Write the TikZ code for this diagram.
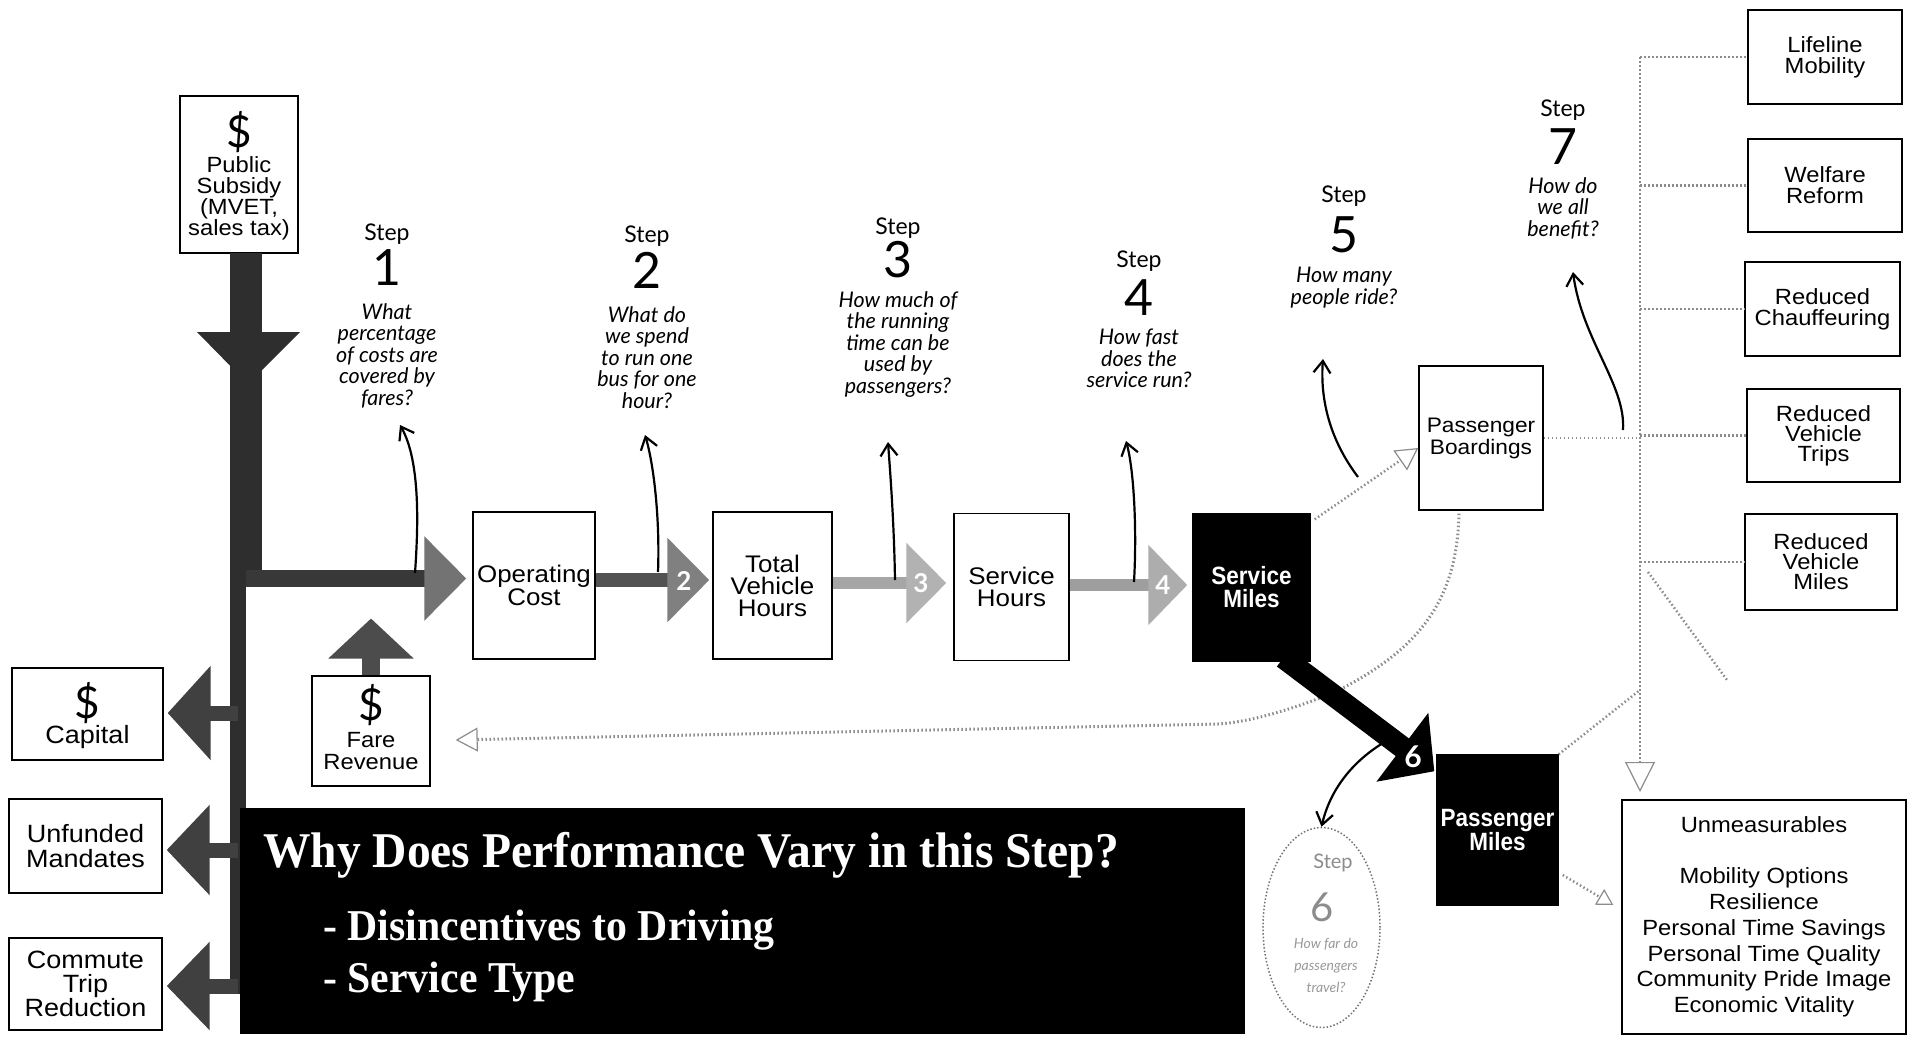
\documentclass[tikz,border=0pt]{standalone}
\usepackage{fontspec}
\usetikzlibrary{arrows.meta,calc,shapes.geometric}
\setmainfont{Lato}
\newfontfamily\boxfont[FakeStretch=1.08]{Liberation Sans}
\newfontfamily\darkfont[FakeStretch=0.9]{Liberation Sans}
\newfontfamily\bannerfont[FakeStretch=0.95]{Liberation Serif}
\newfontfamily\stepfont{Lato}
\newcommand{\FS}[2]{\fontsize{#1}{#2}\selectfont}
\tikzset{
  wbox/.style={draw=black, line width=1.4pt, fill=white, inner sep=0pt, align=center, font=\boxfont\FS{24}{22}},
  dbox/.style={draw=black, line width=1.4pt, fill=black, text=white, inner sep=0pt, align=center, font=\darkfont\bfseries\FS{25}{23}},
  txt/.style={inner sep=0pt, align=center},
  stepword/.style={font=\stepfont\FS{23}{23}, inner sep=0pt},
  stepdigit/.style={font=\stepfont\FS{50}{50}, inner sep=0pt},
  stepq/.style={font=\stepfont\itshape\FS{21.5}{21.5}, align=center, inner sep=0pt, anchor=north},
  qarrow/.style={line width=2.2pt, -{Straight Barb[length=12pt,width=17pt,line width=2.2pt]}},
  dotline/.style={black!45, line width=2.5pt, dash pattern=on 1.5pt off 2.5pt},
  opentip/.style={-{Triangle[open,length=22pt,width=24pt,line width=1.2pt]}},
  headnum/.style={inner sep=0pt, text=white, font=\stepfont\bfseries\FS{26}{26}},
}
\newcommand{\StepLabel}[7]{%
  \node[stepword] (#1w) at (#2,#3) {Step};
  \node[stepdigit] (#1n) at (#2,#4) {#5};
  \node[stepq] (#1q) at (#2,#6-9) {#7};
}
\begin{document}
\begin{tikzpicture}[x=1pt,y=-1pt]
\useasboundingbox (0,0) rectangle (1907,1039);
\fill[white] (0,0) rectangle (1907,1039);

% ---------- boxes (nodes) ----------
\node[wbox, minimum width=118pt, minimum height=157pt] (ps) at (239,174.5) {};
\node[wbox, minimum width=122pt, minimum height=147pt, font=\boxfont\FS{24}{18}] (oc) at (534,585.5) {Operating\\Cost};
\node[wbox, minimum width=119pt, minimum height=147pt] (tvh) at (772.5,585.5) {Total\\Vehicle\\Hours};
\node[wbox, minimum width=115pt, minimum height=147pt] (sh) at (1011.5,587) {Service\\Hours};
\node[dbox, minimum width=117pt, minimum height=147pt] (sm) at (1251.5,587.5) {Service\\Miles};
\node[wbox, minimum width=124pt, minimum height=144pt, font=\boxfont\FS{21}{22}] (pb) at (1481,438) {Passenger\\Boardings};
\node[dbox, minimum width=121pt, minimum height=150pt, font=\darkfont\bfseries\FS{25}{21}] (pm) at (1497.5,830) {Passenger\\Miles};
\node[wbox, minimum width=118pt, minimum height=110pt] (fr) at (371,731) {};
\node[wbox, minimum width=151pt, minimum height=92pt] (cap) at (87.5,714) {};
\node[wbox, minimum width=153pt, minimum height=94pt, font=\boxfont\FS{25}{25}] (unf) at (85.5,846) {Unfunded\\Mandates};
\node[wbox, minimum width=153pt, minimum height=92pt, font=\boxfont\FS{25}{24}] (ctr) at (85.5,984) {Commute\\Trip\\Reduction};
\node[wbox, minimum width=154pt, minimum height=94pt, font=\boxfont\FS{22}{21}] (lm) at (1825,57) {Lifeline\\Mobility};
\node[wbox, minimum width=154pt, minimum height=93pt, font=\boxfont\FS{22}{21}] (wr) at (1825,185.5) {Welfare\\Reform};
\node[wbox, minimum width=155pt, minimum height=94pt, font=\boxfont\FS{22}{21}] (rc) at (1822.5,309) {Reduced\\Chauffeuring};
\node[wbox, minimum width=153pt, minimum height=93pt, font=\boxfont\FS{22}{20}] (rvt) at (1823.5,435.5) {Reduced\\Vehicle\\Trips};
\node[wbox, minimum width=152pt, minimum height=96pt, font=\boxfont\FS{22}{20}] (rvm) at (1821,562) {Reduced\\Vehicle\\Miles};
\node[wbox, minimum width=284pt, minimum height=234pt, font=\boxfont\FS{22}{25.8}] (um) at (1764,917) {Unmeasurables\\[25pt]Mobility Options\\Resilience\\Personal Time Savings\\Personal Time Quality\\Community Pride Image\\Economic Vitality};

% ---------- coordinates ----------
\coordinate (cyA) at (0,578.5);
\coordinate (cyB) at (0,580);
\coordinate (cyC) at (0,583);
\coordinate (cyD) at (0,585);
\coordinate (j1) at (246,578.5);
\coordinate (t1) at (238,713);
\coordinate (t2) at (238,850);
\coordinate (t3) at (238,986);
\coordinate (frin) at ($(fr.east)+(25,9)$);
\coordinate (vt) at (1640,57);
\coordinate (vb) at (1640,792);
\coordinate (vpm) at (1640,690);
\coordinate (dg1) at (1648,572);
\coordinate (dg2) at (1727,680);

% ---------- dotted (faint) connectors ----------
\draw[dotline, line width=3pt, opentip] ($(pb.south)+(-22,3)$) .. controls (1457,600) and (1420,650) .. (1333,693) .. controls (1290,710) and (1250,722) .. (1218,724) -- (frin);
\draw[dotline, opentip] ($(sm.north east)+(4,6)$) -- ($(pb.west)+(0,10)$);
\draw[dotline] (pb.east) -- (pb.east -| vt);
\draw[dotline, -{Triangle[open,length=30pt,width=30pt,line width=1.2pt]}] (vt) -- (vb);
\draw[dotline] (vt |- lm.west) -- (lm.west);
\draw[dotline] (vt |- wr.west) -- (wr.west);
\draw[dotline] (vt |- rc.west) -- (rc.west);
\draw[dotline] (vt |- rvt.west) -- (rvt.west);
\draw[dotline] (vt |- rvm.west) -- (rvm.west);
\draw[dotline] (pm.north east) -- (vpm);
\draw[dotline] (dg1) -- (dg2);
\draw[dotline, -{Triangle[open,length=16pt,width=18pt,line width=1.2pt]}] ($(pm.east)+(4,45)$) -- ($(um.west)+(-8,-12)$);

% ---------- trunk ----------
\fill[black!82] (230,253) rectangle (262,587);
\fill[black!82] (230,570) rectangle (246,994);
\fill[black!82] (197,332) -- (300,332) -- (248,384) -- cycle;

% ---------- money flows ----------
\draw[black!78, line width=17pt, -{Triangle[length=42pt,width=82pt,color=black!55]}, shorten >=6pt] (j1) -- (oc.west |- cyA);
\draw[black!75, line width=15pt, -{Triangle[length=43pt,width=92pt]}, shorten >=4pt] (t1) -- (t1 -| cap.east);
\draw[black!75, line width=15pt, -{Triangle[length=43pt,width=88pt]}, shorten >=4pt] (t2) -- (t2 -| unf.east);
\draw[black!75, line width=15pt, -{Triangle[length=43pt,width=86pt]}, shorten >=4pt] (t3) -- (t3 -| ctr.east);
\draw[black!70, line width=18pt, -{Triangle[length=40pt,width=83pt]}, shorten >=40pt] (fr.north) -- (fr.north |- cyA);

% ---------- chain arrows ----------
\draw[black!68, line width=14pt, -{Triangle[length=42pt,width=82pt,color=black!50]}, shorten >=3pt] (oc.east |- cyB) -- (tvh.west |- cyB);
\draw[black!35, line width=12pt, -{Triangle[length=40pt,width=78pt,color=black!30]}, shorten >=7pt] (tvh.east |- cyC) -- (sh.west |- cyC);
\draw[black!38, line width=12pt, -{Triangle[length=39pt,width=78pt,color=black!32]}, shorten >=5pt] (sh.east |- cyD) -- (sm.west |- cyD);
\node[headnum] (h2) at (684,581) {2};
\node[headnum] (h3) at (921,583) {3};
\node[headnum] (h4) at (1163,585) {4};

% ---------- step 6 arrow ----------
\draw[black, line width=22pt, -{Triangle[length=40pt,width=84pt]}] ($(sm.south)+(32,-4)$) -- ($(pm.north west)+(-2,17)$);
\node[headnum, font=\stepfont\bfseries\FS{30}{30}] (h6) at (1413,757) {6};

% ---------- box inner texts ----------
\node[txt, font=\stepfont\FS{44}{44}] (psd) at (239,132) {\$};
\node[txt, font=\boxfont\FS{22}{21}] (pst) at (239,198) {Public\\Subsidy\\(MVET,\\sales tax)};
\node[txt, font=\stepfont\FS{44}{44}] (frd) at (371,705) {\$};
\node[txt, font=\boxfont\FS{22}{22}] (frt) at (371,751) {Fare\\Revenue};
\node[txt, font=\stepfont\FS{44}{44}] (capd) at (87.5,703) {\$};
\node[txt, font=\boxfont\FS{25}{25}] (capt) at (87.5,737) {Capital};

% ---------- steps ----------
\StepLabel{s1}{387}{234}{268}{1}{312}{What\\percentage\\of costs are\\covered by\\fares?}
\StepLabel{s2}{647}{236}{270}{2}{315}{What do\\we spend\\to run one\\bus for one\\hour?}
\StepLabel{s3}{898}{228}{260}{3}{300}{How much of\\the running\\time can be\\used by\\passengers?}
\StepLabel{s4}{1139}{261}{298}{4}{338}{How fast\\does the\\service run?}
\StepLabel{s5}{1344}{196}{235}{5}{276}{How many\\people ride?}
\StepLabel{s7}{1563}{110}{147}{7}{186}{How do\\we all\\benefit?}

\coordinate (a1s) at (415,573); \coordinate (a1e) at (400,425);
\coordinate (a2s) at (658,572); \coordinate (a2e) at (645,435);
\coordinate (a3s) at (895,580); \coordinate (a3e) at (888,442);
\coordinate (a4s) at (1134,582); \coordinate (a4e) at (1126,441);
\coordinate (a5s) at (1358,477); \coordinate (a5e) at (1323,359);
\coordinate (a7s) at (1623,430); \coordinate (a7e) at (1573,272);
\coordinate (a6s) at (1383,743);
\draw[qarrow] (a1s) .. controls (418,530) and (421,462) .. (a1e);
\draw[qarrow] (a2s) .. controls (660,520) and (654,465) .. (a2e);
\draw[qarrow] (a3s) .. controls (894,520) and (890,470) .. (a3e);
\draw[qarrow] (a4s) .. controls (1137,530) and (1134,470) .. (a4e);
\draw[qarrow] (a5s) .. controls (1330,440) and (1320,400) .. (a5e);
\draw[qarrow] (a7s) .. controls (1626,385) and (1582,340) .. (a7e);

% ---------- step 6 ellipse ----------
\node[ellipse, draw=black!55, line width=1.5pt, dash pattern=on 1.5pt off 2pt, minimum width=117pt, minimum height=200pt, inner sep=0pt] (e6) at (1321.5,927.5) {};
\draw[qarrow] (a6s) .. controls (1352,762) and (1330,790) .. (e6.north);
\node[txt, text=black!45, font=\stepfont\FS{20}{20}] (e6w) at (1333,863) {Step};
\node[txt, text=black!45, font=\stepfont\FS{40}{40}] (e6n) at (1322,907) {6};
\node[txt, text=black!40, font=\stepfont\itshape\FS{14}{22}] (e6q) at (1326,965) {How far do\\passengers\\travel?};

% ---------- banner ----------
\node[fill=black, minimum width=1005pt, minimum height=226pt, inner sep=0pt, anchor=north west] (ban) at (240,808) {};
\node[anchor=base west, inner sep=0pt, text=white, font=\bannerfont\bfseries\FS{50}{50}] (bt) at (263,867) {Why Does Performance Vary in this Step?};
\node[anchor=base west, inner sep=0pt, text=white, font=\bannerfont\bfseries\FS{44}{44}] (b1) at (323,940) {- Disincentives to Driving};
\node[anchor=base west, inner sep=0pt, text=white, font=\bannerfont\bfseries\FS{44}{44}] (b2) at (323,992) {- Service Type};
\end{tikzpicture}
\end{document}
